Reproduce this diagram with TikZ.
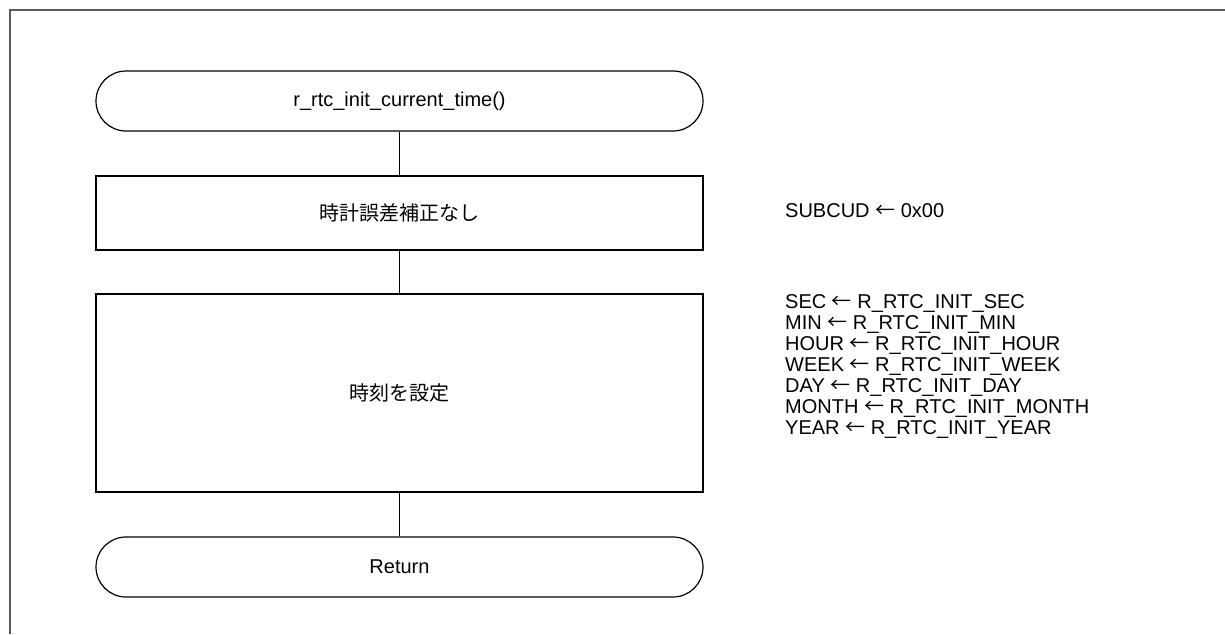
\documentclass[tikz,border=0pt]{standalone}
\usepackage{fontspec}
\setmainfont{Liberation Sans}
\newfontfamily\jpfont{Noto Sans CJK JP}
\usepackage{tikz}

\newcommand{\larr}{{\jpfont ←}}

\tikzset{
  term/.style={draw, line width=1.2pt, rounded corners=30pt, minimum width=607pt, minimum height=60pt},
  proc/.style={draw, line width=1.2pt, minimum width=607pt},
  note/.style={inner sep=0pt, anchor=base west}
}

\begin{document}
\begin{tikzpicture}[x=1pt, y=-1pt, font=\fontsize{20}{21}\selectfont]
        \useasboundingbox (0,0) rectangle (1225,634);
        \draw[line width=1.5pt, black!65] (10,634) -- (10,10) -- (1225,10);

        \node [term] (1) at (399.5,101) {r\_rtc\_init\_current\_time()};
        \node [proc, minimum height=74pt] (2) at (399.5,213) {\jpfont 時計誤差補正なし};
        \node [proc, minimum height=198pt] (3) at (399.5,393) {\jpfont 時刻を設定};
        \node [term] (4) at (399.5,567) {Return};

        \draw[line width=1.2pt] (1) -- (2);
        \draw[line width=1.2pt] (2) -- (3);
        \draw[line width=1.2pt] (3) -- (4);

        \node [note] (5) at (785,217) {SUBCUD \larr{} 0x00};
        \node [note, align=left] (6) at (785,434) {%
          SEC \larr{} R\_RTC\_INIT\_SEC\\
          MIN \larr{} R\_RTC\_INIT\_MIN\\
          HOUR \larr{} R\_RTC\_INIT\_HOUR\\
          WEEK \larr{} R\_RTC\_INIT\_WEEK\\
          DAY \larr{} R\_RTC\_INIT\_DAY\\
          MONTH \larr{} R\_RTC\_INIT\_MONTH\\
          YEAR \larr{} R\_RTC\_INIT\_YEAR};
      \end{tikzpicture}
\end{document}
